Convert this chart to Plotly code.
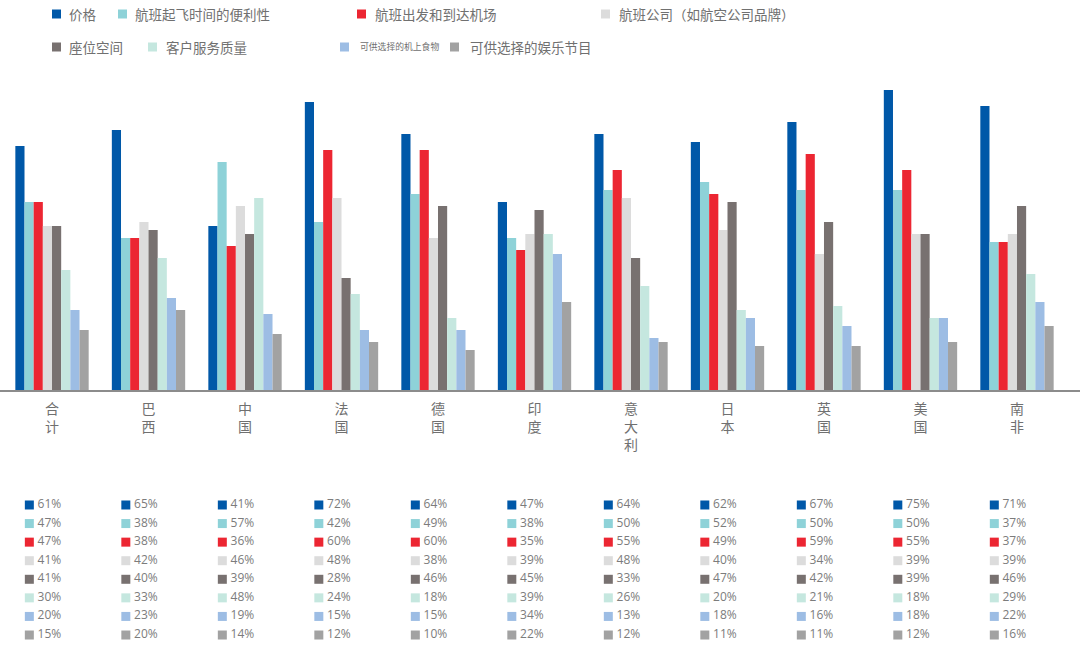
import plotly.graph_objects as go

# ---------------- data ----------------
categories = ["合计", "巴西", "中国", "法国", "德国", "印度", "意大利", "日本", "英国", "美国", "南非"]
series_names = [
    "价格",
    "航班起飞时间的便利性",
    "航班出发和到达机场",
    "航班公司（如航空公司品牌）",
    "座位空间",
    "客户服务质量",
    "可供选择的机上食物",
    "可供选择的娱乐节目",
]
price = [61, 65, 41, 72, 64, 47, 64, 62, 67, 75, 71]
schedule = [47, 38, 57, 42, 49, 38, 50, 52, 50, 50, 37]
airport = [47, 38, 36, 60, 60, 35, 55, 49, 59, 55, 37]
airline = [41, 42, 46, 48, 38, 39, 48, 40, 34, 39, 39]
seat = [41, 40, 39, 28, 46, 45, 33, 47, 42, 39, 46]
service = [30, 33, 48, 24, 18, 39, 26, 20, 21, 18, 29]
food = [20, 23, 19, 15, 15, 34, 13, 18, 16, 18, 22]
entertainment = [15, 20, 14, 12, 10, 22, 12, 11, 11, 12, 16]
values = [price, schedule, airport, airline, seat, service, food, entertainment]

colors = ["#0058A8", "#8ED2D8", "#EC2632", "#DCDCDC", "#787170", "#C5E7DF", "#9DBDE4", "#A2A2A2"]

# ---------------- figure ----------------
W, H = 1080, 648
fig = go.Figure()
xs = list(range(len(categories)))

for name, vals, col in zip(series_names, values, colors):
    fig.add_trace(go.Bar(
        x=xs, y=vals, name=name,
        marker=dict(color=col, line=dict(width=0)),
        showlegend=False,
        hovertemplate=name + ": %{y}%<extra></extra>",
    ))

# table below chart: square swatch + percentage text
marker_off = -0.235
text_off = -0.15
for r, (name, vals, col) in enumerate(zip(series_names, values, colors)):
    fig.add_trace(go.Scatter(
        x=[i + marker_off for i in xs], y=[r] * len(xs),
        mode="markers",
        marker=dict(symbol="square", size=9, color=col, line=dict(width=0)),
        xaxis="x2", yaxis="y2", showlegend=False, hoverinfo="skip",
        cliponaxis=False,
    ))
    fig.add_trace(go.Scatter(
        x=[i + text_off for i in xs], y=[r] * len(xs),
        mode="text",
        text=[f"{v}%" for v in vals],
        textposition="middle right",
        textfont=dict(size=12, color="#7c7c7c", family="Open Sans"),
        xaxis="x2", yaxis="y2", showlegend=False, hoverinfo="skip",
        cliponaxis=False,
    ))

xr = [-0.539, 10.653]


def px_x(p):
    return p / W


def px_y(p):
    return 1 - p / H


# legend (manual layout): series index, swatch left x, centre y, font size, gap
legend_items = [
    (0, 52, 14, 13.5, 6), (1, 118, 14, 13.5, 6), (2, 357, 14, 13.5, 7), (3, 601, 14, 13.5, 7),
    (4, 52, 47, 13.5, 6), (5, 148, 47, 13.5, 7), (6, 340, 47, 8.8, 9), (7, 450, 47, 13.5, 9),
]
shapes = []
annotations = []
for idx, x0, yc, fs, gap in legend_items:
    s = 9
    shapes.append(dict(type="rect", xref="paper", yref="paper",
                       x0=px_x(x0), x1=px_x(x0 + s), y0=px_y(yc + s / 2), y1=px_y(yc - s / 2),
                       fillcolor=colors[idx], line=dict(width=0)))
    annotations.append(dict(xref="paper", yref="paper", x=px_x(x0 + s + gap), y=px_y(yc),
                            xanchor="left", yanchor="middle", showarrow=False,
                            text=series_names[idx],
                            font=dict(size=fs, color="#707070", family="Noto Sans CJK SC")))

fig.update_layout(
    width=W, height=H,
    margin=dict(l=0, r=0, t=0, b=0),
    paper_bgcolor="white", plot_bgcolor="white",
    barmode="group", bargap=0.24, bargroupgap=0,
    font=dict(family="Noto Sans CJK SC", color="#666666"),
    xaxis=dict(
        domain=[0, 1], range=xr, anchor="y",
        tickmode="array", tickvals=xs,
        ticktext=["<br>".join(list(c)) for c in categories],
        tickfont=dict(size=14, color="#707070", family="Noto Sans CJK SC"),
        ticks="", ticklabelstandoff=5,
        showline=True, linecolor="#8c8c8c", linewidth=2,
        showgrid=False, zeroline=False, fixedrange=True,
    ),
    yaxis=dict(
        domain=[(H - 390) / H, (H - 70) / H], range=[0, 80],
        visible=False, showgrid=False, zeroline=False, fixedrange=True,
    ),
    xaxis2=dict(domain=[0, 1], range=xr, anchor="y2", visible=False, fixedrange=True),
    yaxis2=dict(domain=[(H - 644.3) / H, (H - 495.7) / H], range=[7.5, -0.5],
                anchor="x2", visible=False, fixedrange=True),
    shapes=shapes,
    annotations=annotations,
)

fig.write_html("out.html")
